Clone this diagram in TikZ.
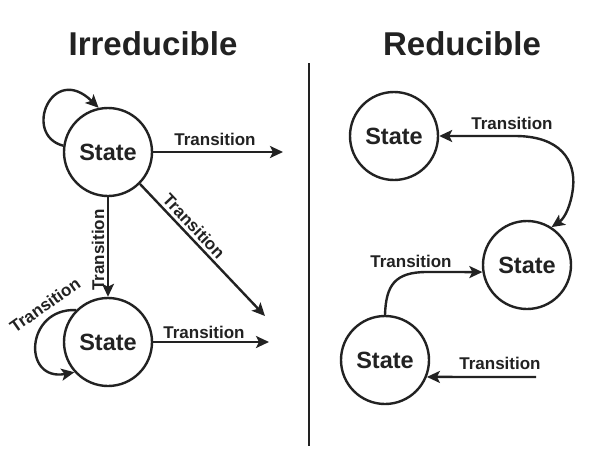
\documentclass[tikz,border=0pt]{standalone}
\usepackage{fontspec}
\setmainfont{Liberation Sans}
\usetikzlibrary{arrows.meta}
\definecolor{ink}{HTML}{222222}
\begin{document}
\begin{tikzpicture}[x=1pt,y=-1pt,
  statenode/.style={circle,draw=ink,line width=2.4pt,minimum size=88pt,inner sep=0pt,font=\fontsize{23.5}{23.5}\selectfont\bfseries,text=ink},
  conn/.style={draw=ink,line width=2.4pt,-{Stealth[length=13pt,width=12pt,inset=3pt]}},
  both/.style={draw=ink,line width=2.4pt,{Stealth[length=13pt,width=12pt,inset=3pt]}-{Stealth[length=13pt,width=12pt,inset=3pt]}},
  lbl/.style={font=\fontsize{17}{17}\selectfont\bfseries,text=ink,inner sep=0pt},
  ttl/.style={font=\fontsize{33}{33}\selectfont\bfseries,text=ink,inner sep=0pt}]
\useasboundingbox (0,0) rectangle (598,458);
\fill[white] (0,0) rectangle (598,458);
% titles
\node[ttl,anchor=base] (t1) at (153,55) {Irreducible};
\node[ttl,anchor=base] (t2) at (462,55) {Reducible};
% divider
\coordinate (d1) at (309,63);
\coordinate (d2) at (309,446);
\draw[ink,line width=1.5pt] (d1) -- (d2);
% left states
\node[statenode] (A) at (108,152) {State};
\node[statenode] (B) at (108,342) {State};
% right states
\node[statenode] (C) at (394,136) {State};
\node[statenode] (D) at (527,265) {State};
\node[statenode] (E) at (385,360) {State};
% free ends
\coordinate (a1) at (283,152);
\coordinate (a2) at (265,316);
\coordinate (b1) at (269,342);
\coordinate (e1) at (536,377);
% left connectors
\draw[conn] (A.172) .. controls (22,135) and (52,62) .. (A.102);
\draw[conn] (A.east) -- (a1);
\draw[conn] (A.-45) -- (a2);
\draw[conn] (A.south) -- (B.north);
\draw[conn] (B.135) .. controls (25,308) and (22,382) .. (B.222);
\draw[conn] (B.east) -- (b1);
% left labels
\node[lbl] (l1) at (215,139) {Transition};
\node[lbl,rotate=-46.6] (l2) at (194,226) {Transition};
\node[lbl,rotate=90] (l3) at (98,250) {Transition};
\node[lbl,rotate=35] (l4) at (45,305) {Transition};
\node[lbl] (l5) at (204,332) {Transition};
% right connectors
\draw[both] (C.east) -- (515,136) .. controls (560,136) and (576,160) .. (573,188) .. controls (571,205) and (565,218) .. (D.57);
\draw[conn] (E.north) .. controls (386,285) and (395,272) .. (427,272) -- (D.189);
\draw[conn] (e1) -- (E.-22);
% right labels
\node[lbl] (r1) at (512,123) {Transition};
\node[lbl] (r2) at (411,261) {Transition};
\node[lbl] (r3) at (500,363) {Transition};
\end{tikzpicture}
\end{document}
